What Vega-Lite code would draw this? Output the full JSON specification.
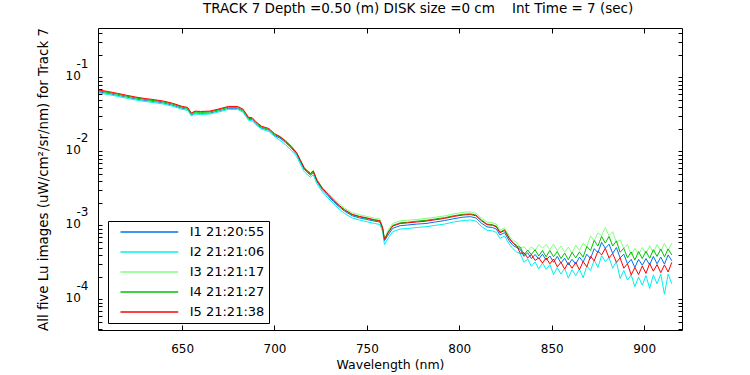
{
"$schema":"https://vega.github.io/schema/vega-lite/v6.json",
"width":584,"height":302,
"autosize":{"type":"none"},
"padding":{"left":98,"top":28,"right":68,"bottom":45},
"background":"white",
"config":{"font":"DejaVu Sans","view":{"stroke":"black","strokeWidth":1},
"axis":{"labelFont":"DejaVu Sans","titleFont":"DejaVu Sans","labelColor":"black","titleColor":"black","tickColor":"black","domain":false,"grid":false,"titleFontWeight":"normal","labelOverlap":false,"labelBound":false,"labelFlush":false}},
"title":{"text":"TRACK 7 Depth =0.50 (m) DISK size =0 cm\u00a0\u00a0\u00a0 Int Time = 7 (sec)","anchor":"start","frame":"group","dx":105,"offset":-3,"fontSize":13.5,"fontWeight":"normal","font":"DejaVu Sans","color":"black"},
"data":{"values":[
{"s":"I1 21:20:55","w":605,"v":6.38e-2},{"s":"I1 21:20:55","w":610,"v":6.10e-2},{"s":"I1 21:20:55","w":615,"v":5.76e-2},{"s":"I1 21:20:55","w":620,"v":5.43e-2},{"s":"I1 21:20:55","w":625,"v":5.13e-2},{"s":"I1 21:20:55","w":630,"v":4.90e-2},{"s":"I1 21:20:55","w":635,"v":4.73e-2},{"s":"I1 21:20:55","w":640,"v":4.52e-2},{"s":"I1 21:20:55","w":645,"v":4.22e-2},{"s":"I1 21:20:55","w":650,"v":3.84e-2},{"s":"I1 21:20:55","w":653,"v":3.72e-2},{"s":"I1 21:20:55","w":655,"v":3.12e-2},{"s":"I1 21:20:55","w":657,"v":3.31e-2},{"s":"I1 21:20:55","w":660,"v":3.28e-2},{"s":"I1 21:20:55","w":665,"v":3.31e-2},{"s":"I1 21:20:55","w":670,"v":3.55e-2},{"s":"I1 21:20:55","w":675,"v":3.83e-2},{"s":"I1 21:20:55","w":680,"v":3.83e-2},{"s":"I1 21:20:55","w":683,"v":3.51e-2},{"s":"I1 21:20:55","w":686,"v":2.72e-2},{"s":"I1 21:20:55","w":688,"v":2.69e-2},{"s":"I1 21:20:55","w":690,"v":2.37e-2},{"s":"I1 21:20:55","w":693,"v":2.07e-2},{"s":"I1 21:20:55","w":697,"v":1.93e-2},{"s":"I1 21:20:55","w":700,"v":1.64e-2},
{"s":"I1 21:20:55","w":703,"v":1.51e-2},{"s":"I1 21:20:55","w":706,"v":1.32e-2},{"s":"I1 21:20:55","w":709,"v":1.12e-2},{"s":"I1 21:20:55","w":712,"v":9.12e-3},{"s":"I1 21:20:55","w":714,"v":7.25e-3},{"s":"I1 21:20:55","w":716,"v":5.76e-3},{"s":"I1 21:20:55","w":718,"v":5.13e-3},{"s":"I1 21:20:55","w":719.5,"v":4.78e-3},{"s":"I1 21:20:55","w":721,"v":5.19e-3},{"s":"I1 21:20:55","w":723,"v":3.89e-3},{"s":"I1 21:20:55","w":726,"v":3.02e-3},{"s":"I1 21:20:55","w":729,"v":2.51e-3},{"s":"I1 21:20:55","w":732,"v":2.09e-3},{"s":"I1 21:20:55","w":735,"v":1.78e-3},{"s":"I1 21:20:55","w":738,"v":1.55e-3},{"s":"I1 21:20:55","w":742,"v":1.35e-3},{"s":"I1 21:20:55","w":746,"v":1.26e-3},{"s":"I1 21:20:55","w":750,"v":1.20e-3},{"s":"I1 21:20:55","w":754,"v":1.14e-3},{"s":"I1 21:20:55","w":757,"v":1.11e-3},{"s":"I1 21:20:55","w":758.5,"v":8.91e-4},{"s":"I1 21:20:55","w":759.5,"v":6.17e-4},
{"s":"I1 21:20:55","w":761.5,"v":7.41e-4},{"s":"I1 21:20:55","w":764,"v":9.12e-4},{"s":"I1 21:20:55","w":768,"v":9.89e-4},{"s":"I1 21:20:55","w":772,"v":1.01e-3},{"s":"I1 21:20:55","w":777,"v":1.04e-3},{"s":"I1 21:20:55","w":782,"v":1.06e-3},{"s":"I1 21:20:55","w":787,"v":1.11e-3},{"s":"I1 21:20:55","w":792,"v":1.16e-3},{"s":"I1 21:20:55","w":797,"v":1.23e-3},{"s":"I1 21:20:55","w":802,"v":1.29e-3},{"s":"I1 21:20:55","w":806,"v":1.31e-3},{"s":"I1 21:20:55","w":809,"v":1.26e-3},{"s":"I1 21:20:55","w":812,"v":1.07e-3},{"s":"I1 21:20:55","w":815,"v":9.52e-4},{"s":"I1 21:20:55","w":818,"v":9.33e-4},{"s":"I1 21:20:55","w":820,"v":8.91e-4},{"s":"I1 21:20:55","w":822,"v":7.41e-4},{"s":"I1 21:20:55","w":824.5,"v":7.94e-4},{"s":"I1 21:20:55","w":827,"v":6.17e-4},{"s":"I1 21:20:55","w":829,"v":5.36e-4},
{"s":"I1 21:20:55","w":831,"v":5.01e-4},{"s":"I1 21:20:55","w":833,"v":4.73e-4},{"s":"I1 21:20:55","w":835,"v":3.80e-4},{"s":"I1 21:20:55","w":837,"v":4.27e-4},{"s":"I1 21:20:55","w":839,"v":3.55e-4},{"s":"I1 21:20:55","w":841,"v":4.03e-4},{"s":"I1 21:20:55","w":843,"v":3.51e-4},{"s":"I1 21:20:55","w":845,"v":4.07e-4},{"s":"I1 21:20:55","w":847,"v":3.40e-4},{"s":"I1 21:20:55","w":849,"v":3.85e-4},{"s":"I1 21:20:55","w":851,"v":3.16e-4},{"s":"I1 21:20:55","w":853,"v":3.80e-4},{"s":"I1 21:20:55","w":855,"v":3.09e-4},{"s":"I1 21:20:55","w":857,"v":3.59e-4},{"s":"I1 21:20:55","w":859,"v":2.92e-4},{"s":"I1 21:20:55","w":861,"v":3.47e-4},{"s":"I1 21:20:55","w":863,"v":2.99e-4},{"s":"I1 21:20:55","w":865,"v":3.72e-4},{"s":"I1 21:20:55","w":867,"v":3.20e-4},{"s":"I1 21:20:55","w":869,"v":4.07e-4},{"s":"I1 21:20:55","w":871,"v":3.55e-4},{"s":"I1 21:20:55","w":873,"v":4.84e-4},{"s":"I1 21:20:55","w":875,"v":4.27e-4},{"s":"I1 21:20:55","w":877,"v":5.89e-4},{"s":"I1 21:20:55","w":879,"v":4.90e-4},{"s":"I1 21:20:55","w":881,"v":5.56e-4},{"s":"I1 21:20:55","w":883,"v":4.17e-4},{"s":"I1 21:20:55","w":885,"v":5.01e-4},{"s":"I1 21:20:55","w":887,"v":3.63e-4},{"s":"I1 21:20:55","w":889,"v":4.07e-4},{"s":"I1 21:20:55","w":891,"v":3.02e-4},{"s":"I1 21:20:55","w":893,"v":3.47e-4},{"s":"I1 21:20:55","w":895,"v":2.69e-4},{"s":"I1 21:20:55","w":897,"v":3.47e-4},{"s":"I1 21:20:55","w":899,"v":2.88e-4},{"s":"I1 21:20:55","w":901,"v":3.55e-4},{"s":"I1 21:20:55","w":903,"v":2.92e-4},{"s":"I1 21:20:55","w":905,"v":3.80e-4},{"s":"I1 21:20:55","w":907,"v":3.02e-4},{"s":"I1 21:20:55","w":909,"v":3.72e-4},{"s":"I1 21:20:55","w":911,"v":2.99e-4},{"s":"I1 21:20:55","w":913,"v":3.98e-4},{"s":"I1 21:20:55","w":915,"v":3.31e-4},

{"s":"I2 21:21:06","w":605,"v":6.17e-2},{"s":"I2 21:21:06","w":610,"v":5.89e-2},{"s":"I2 21:21:06","w":615,"v":5.56e-2},{"s":"I2 21:21:06","w":620,"v":5.24e-2},{"s":"I2 21:21:06","w":625,"v":4.95e-2},{"s":"I2 21:21:06","w":630,"v":4.73e-2},{"s":"I2 21:21:06","w":635,"v":4.57e-2},{"s":"I2 21:21:06","w":640,"v":4.37e-2},{"s":"I2 21:21:06","w":645,"v":4.08e-2},{"s":"I2 21:21:06","w":650,"v":3.71e-2},{"s":"I2 21:21:06","w":653,"v":3.59e-2},{"s":"I2 21:21:06","w":655,"v":3.02e-2},{"s":"I2 21:21:06","w":657,"v":3.20e-2},{"s":"I2 21:21:06","w":660,"v":3.16e-2},{"s":"I2 21:21:06","w":665,"v":3.20e-2},{"s":"I2 21:21:06","w":670,"v":3.43e-2},{"s":"I2 21:21:06","w":675,"v":3.70e-2},{"s":"I2 21:21:06","w":680,"v":3.70e-2},{"s":"I2 21:21:06","w":683,"v":3.39e-2},{"s":"I2 21:21:06","w":686,"v":2.63e-2},{"s":"I2 21:21:06","w":688,"v":2.60e-2},{"s":"I2 21:21:06","w":690,"v":2.29e-2},{"s":"I2 21:21:06","w":693,"v":2.00e-2},{"s":"I2 21:21:06","w":697,"v":1.86e-2},{"s":"I2 21:21:06","w":700,"v":1.59e-2},
{"s":"I2 21:21:06","w":703,"v":1.41e-2},{"s":"I2 21:21:06","w":706,"v":1.23e-2},{"s":"I2 21:21:06","w":709,"v":1.04e-2},{"s":"I2 21:21:06","w":712,"v":8.51e-3},{"s":"I2 21:21:06","w":714,"v":6.76e-3},{"s":"I2 21:21:06","w":716,"v":5.37e-3},{"s":"I2 21:21:06","w":718,"v":4.78e-3},{"s":"I2 21:21:06","w":719.5,"v":4.46e-3},{"s":"I2 21:21:06","w":721,"v":4.84e-3},{"s":"I2 21:21:06","w":723,"v":3.63e-3},{"s":"I2 21:21:06","w":726,"v":2.82e-3},{"s":"I2 21:21:06","w":729,"v":2.34e-3},{"s":"I2 21:21:06","w":732,"v":1.95e-3},{"s":"I2 21:21:06","w":735,"v":1.66e-3},{"s":"I2 21:21:06","w":738,"v":1.44e-3},{"s":"I2 21:21:06","w":742,"v":1.26e-3},{"s":"I2 21:21:06","w":746,"v":1.18e-3},{"s":"I2 21:21:06","w":750,"v":1.12e-3},{"s":"I2 21:21:06","w":754,"v":1.06e-3},{"s":"I2 21:21:06","w":757,"v":1.03e-3},{"s":"I2 21:21:06","w":758.5,"v":8.31e-4},{"s":"I2 21:21:06","w":759.5,"v":5.49e-4},
{"s":"I2 21:21:06","w":761.5,"v":6.68e-4},{"s":"I2 21:21:06","w":764,"v":8.22e-4},{"s":"I2 21:21:06","w":768,"v":8.91e-4},{"s":"I2 21:21:06","w":772,"v":9.08e-4},{"s":"I2 21:21:06","w":777,"v":9.34e-4},{"s":"I2 21:21:06","w":782,"v":9.59e-4},{"s":"I2 21:21:06","w":787,"v":1.00e-3},{"s":"I2 21:21:06","w":792,"v":1.04e-3},{"s":"I2 21:21:06","w":797,"v":1.11e-3},{"s":"I2 21:21:06","w":802,"v":1.16e-3},{"s":"I2 21:21:06","w":806,"v":1.18e-3},{"s":"I2 21:21:06","w":809,"v":1.14e-3},{"s":"I2 21:21:06","w":812,"v":9.67e-4},{"s":"I2 21:21:06","w":815,"v":8.58e-4},{"s":"I2 21:21:06","w":818,"v":8.41e-4},{"s":"I2 21:21:06","w":820,"v":8.03e-4},{"s":"I2 21:21:06","w":822,"v":6.68e-4},{"s":"I2 21:21:06","w":824.5,"v":7.16e-4},{"s":"I2 21:21:06","w":827,"v":5.56e-4},{"s":"I2 21:21:06","w":829,"v":4.84e-4},
{"s":"I2 21:21:06","w":831,"v":4.37e-4},{"s":"I2 21:21:06","w":833,"v":4.12e-4},{"s":"I2 21:21:06","w":835,"v":3.16e-4},{"s":"I2 21:21:06","w":837,"v":3.51e-4},{"s":"I2 21:21:06","w":839,"v":2.79e-4},{"s":"I2 21:21:06","w":841,"v":3.20e-4},{"s":"I2 21:21:06","w":843,"v":2.57e-4},{"s":"I2 21:21:06","w":845,"v":3.09e-4},{"s":"I2 21:21:06","w":847,"v":2.54e-4},{"s":"I2 21:21:06","w":849,"v":2.95e-4},{"s":"I2 21:21:06","w":851,"v":2.16e-4},{"s":"I2 21:21:06","w":853,"v":2.69e-4},{"s":"I2 21:21:06","w":855,"v":2.19e-4},{"s":"I2 21:21:06","w":857,"v":2.63e-4},{"s":"I2 21:21:06","w":859,"v":1.93e-4},{"s":"I2 21:21:06","w":861,"v":2.51e-4},{"s":"I2 21:21:06","w":863,"v":2.09e-4},{"s":"I2 21:21:06","w":865,"v":2.57e-4},{"s":"I2 21:21:06","w":867,"v":1.95e-4},{"s":"I2 21:21:06","w":869,"v":2.82e-4},{"s":"I2 21:21:06","w":871,"v":2.45e-4},{"s":"I2 21:21:06","w":873,"v":3.39e-4},{"s":"I2 21:21:06","w":875,"v":2.69e-4},{"s":"I2 21:21:06","w":877,"v":3.89e-4},{"s":"I2 21:21:06","w":879,"v":3.24e-4},{"s":"I2 21:21:06","w":881,"v":3.67e-4},{"s":"I2 21:21:06","w":883,"v":2.63e-4},{"s":"I2 21:21:06","w":885,"v":3.24e-4},{"s":"I2 21:21:06","w":887,"v":1.91e-4},{"s":"I2 21:21:06","w":889,"v":2.45e-4},{"s":"I2 21:21:06","w":891,"v":1.82e-4},{"s":"I2 21:21:06","w":893,"v":2.14e-4},{"s":"I2 21:21:06","w":895,"v":1.48e-4},{"s":"I2 21:21:06","w":897,"v":2.00e-4},{"s":"I2 21:21:06","w":899,"v":1.55e-4},{"s":"I2 21:21:06","w":901,"v":2.09e-4},{"s":"I2 21:21:06","w":903,"v":1.40e-4},{"s":"I2 21:21:06","w":905,"v":2.14e-4},{"s":"I2 21:21:06","w":907,"v":1.62e-4},{"s":"I2 21:21:06","w":909,"v":2.19e-4},{"s":"I2 21:21:06","w":911,"v":1.17e-4},{"s":"I2 21:21:06","w":913,"v":2.19e-4},{"s":"I2 21:21:06","w":915,"v":1.62e-4},

{"s":"I3 21:21:17","w":605,"v":6.53e-2},{"s":"I3 21:21:17","w":610,"v":6.24e-2},{"s":"I3 21:21:17","w":615,"v":5.89e-2},{"s":"I3 21:21:17","w":620,"v":5.55e-2},{"s":"I3 21:21:17","w":625,"v":5.25e-2},{"s":"I3 21:21:17","w":630,"v":5.01e-2},{"s":"I3 21:21:17","w":635,"v":4.84e-2},{"s":"I3 21:21:17","w":640,"v":4.63e-2},{"s":"I3 21:21:17","w":645,"v":4.32e-2},{"s":"I3 21:21:17","w":650,"v":3.93e-2},{"s":"I3 21:21:17","w":653,"v":3.81e-2},{"s":"I3 21:21:17","w":655,"v":3.20e-2},{"s":"I3 21:21:17","w":657,"v":3.39e-2},{"s":"I3 21:21:17","w":660,"v":3.35e-2},{"s":"I3 21:21:17","w":665,"v":3.39e-2},{"s":"I3 21:21:17","w":670,"v":3.63e-2},{"s":"I3 21:21:17","w":675,"v":3.92e-2},{"s":"I3 21:21:17","w":680,"v":3.92e-2},{"s":"I3 21:21:17","w":683,"v":3.59e-2},{"s":"I3 21:21:17","w":686,"v":2.78e-2},{"s":"I3 21:21:17","w":688,"v":2.75e-2},{"s":"I3 21:21:17","w":690,"v":2.42e-2},{"s":"I3 21:21:17","w":693,"v":2.12e-2},{"s":"I3 21:21:17","w":697,"v":1.97e-2},{"s":"I3 21:21:17","w":700,"v":1.68e-2},
{"s":"I3 21:21:17","w":703,"v":1.62e-2},{"s":"I3 21:21:17","w":706,"v":1.41e-2},{"s":"I3 21:21:17","w":709,"v":1.20e-2},{"s":"I3 21:21:17","w":712,"v":9.77e-3},{"s":"I3 21:21:17","w":714,"v":7.76e-3},{"s":"I3 21:21:17","w":716,"v":6.17e-3},{"s":"I3 21:21:17","w":718,"v":5.49e-3},{"s":"I3 21:21:17","w":719.5,"v":5.13e-3},{"s":"I3 21:21:17","w":721,"v":5.55e-3},{"s":"I3 21:21:17","w":723,"v":4.16e-3},{"s":"I3 21:21:17","w":726,"v":3.23e-3},{"s":"I3 21:21:17","w":729,"v":2.76e-3},{"s":"I3 21:21:17","w":732,"v":2.30e-3},{"s":"I3 21:21:17","w":735,"v":1.95e-3},{"s":"I3 21:21:17","w":738,"v":1.70e-3},{"s":"I3 21:21:17","w":742,"v":1.48e-3},{"s":"I3 21:21:17","w":746,"v":1.39e-3},{"s":"I3 21:21:17","w":750,"v":1.32e-3},{"s":"I3 21:21:17","w":754,"v":1.25e-3},{"s":"I3 21:21:17","w":757,"v":1.22e-3},{"s":"I3 21:21:17","w":758.5,"v":9.54e-4},{"s":"I3 21:21:17","w":759.5,"v":6.61e-4},
{"s":"I3 21:21:17","w":761.5,"v":8.61e-4},{"s":"I3 21:21:17","w":764,"v":1.06e-3},{"s":"I3 21:21:17","w":768,"v":1.15e-3},{"s":"I3 21:21:17","w":772,"v":1.17e-3},{"s":"I3 21:21:17","w":777,"v":1.20e-3},{"s":"I3 21:21:17","w":782,"v":1.24e-3},{"s":"I3 21:21:17","w":787,"v":1.29e-3},{"s":"I3 21:21:17","w":792,"v":1.34e-3},{"s":"I3 21:21:17","w":797,"v":1.43e-3},{"s":"I3 21:21:17","w":802,"v":1.50e-3},{"s":"I3 21:21:17","w":806,"v":1.52e-3},{"s":"I3 21:21:17","w":809,"v":1.46e-3},{"s":"I3 21:21:17","w":812,"v":1.25e-3},{"s":"I3 21:21:17","w":815,"v":1.11e-3},{"s":"I3 21:21:17","w":818,"v":1.08e-3},{"s":"I3 21:21:17","w":820,"v":1.04e-3},{"s":"I3 21:21:17","w":822,"v":8.61e-4},{"s":"I3 21:21:17","w":824.5,"v":9.22e-4},{"s":"I3 21:21:17","w":827,"v":7.17e-4},{"s":"I3 21:21:17","w":829,"v":6.23e-4},
{"s":"I3 21:21:17","w":831,"v":5.89e-4},{"s":"I3 21:21:17","w":833,"v":4.95e-4},{"s":"I3 21:21:17","w":835,"v":5.13e-4},{"s":"I3 21:21:17","w":837,"v":4.47e-4},{"s":"I3 21:21:17","w":839,"v":5.13e-4},{"s":"I3 21:21:17","w":841,"v":4.57e-4},{"s":"I3 21:21:17","w":843,"v":5.50e-4},{"s":"I3 21:21:17","w":845,"v":4.90e-4},{"s":"I3 21:21:17","w":847,"v":5.50e-4},{"s":"I3 21:21:17","w":849,"v":4.68e-4},{"s":"I3 21:21:17","w":851,"v":5.56e-4},{"s":"I3 21:21:17","w":853,"v":4.52e-4},{"s":"I3 21:21:17","w":855,"v":5.25e-4},{"s":"I3 21:21:17","w":857,"v":4.32e-4},{"s":"I3 21:21:17","w":859,"v":5.07e-4},{"s":"I3 21:21:17","w":861,"v":4.22e-4},{"s":"I3 21:21:17","w":863,"v":5.37e-4},{"s":"I3 21:21:17","w":865,"v":4.57e-4},{"s":"I3 21:21:17","w":867,"v":5.75e-4},{"s":"I3 21:21:17","w":869,"v":5.13e-4},{"s":"I3 21:21:17","w":871,"v":7.16e-4},{"s":"I3 21:21:17","w":873,"v":6.17e-4},{"s":"I3 21:21:17","w":875,"v":7.94e-4},{"s":"I3 21:21:17","w":877,"v":7.24e-4},{"s":"I3 21:21:17","w":879,"v":9.33e-4},{"s":"I3 21:21:17","w":881,"v":7.24e-4},{"s":"I3 21:21:17","w":883,"v":8.22e-4},{"s":"I3 21:21:17","w":885,"v":5.89e-4},{"s":"I3 21:21:17","w":887,"v":6.38e-4},{"s":"I3 21:21:17","w":889,"v":4.90e-4},{"s":"I3 21:21:17","w":891,"v":5.50e-4},{"s":"I3 21:21:17","w":893,"v":3.98e-4},{"s":"I3 21:21:17","w":895,"v":4.90e-4},{"s":"I3 21:21:17","w":897,"v":4.03e-4},{"s":"I3 21:21:17","w":899,"v":5.01e-4},{"s":"I3 21:21:17","w":901,"v":4.12e-4},{"s":"I3 21:21:17","w":903,"v":5.31e-4},{"s":"I3 21:21:17","w":905,"v":4.27e-4},{"s":"I3 21:21:17","w":907,"v":5.50e-4},{"s":"I3 21:21:17","w":909,"v":4.47e-4},{"s":"I3 21:21:17","w":911,"v":5.69e-4},{"s":"I3 21:21:17","w":913,"v":4.57e-4},{"s":"I3 21:21:17","w":915,"v":5.75e-4},

{"s":"I4 21:21:27","w":605,"v":6.58e-2},{"s":"I4 21:21:27","w":610,"v":6.29e-2},{"s":"I4 21:21:27","w":615,"v":5.94e-2},{"s":"I4 21:21:27","w":620,"v":5.59e-2},{"s":"I4 21:21:27","w":625,"v":5.28e-2},{"s":"I4 21:21:27","w":630,"v":5.05e-2},{"s":"I4 21:21:27","w":635,"v":4.87e-2},{"s":"I4 21:21:27","w":640,"v":4.66e-2},{"s":"I4 21:21:27","w":645,"v":4.35e-2},{"s":"I4 21:21:27","w":650,"v":3.96e-2},{"s":"I4 21:21:27","w":653,"v":3.83e-2},{"s":"I4 21:21:27","w":655,"v":3.22e-2},{"s":"I4 21:21:27","w":657,"v":3.42e-2},{"s":"I4 21:21:27","w":660,"v":3.38e-2},{"s":"I4 21:21:27","w":665,"v":3.42e-2},{"s":"I4 21:21:27","w":670,"v":3.66e-2},{"s":"I4 21:21:27","w":675,"v":3.95e-2},{"s":"I4 21:21:27","w":680,"v":3.95e-2},{"s":"I4 21:21:27","w":683,"v":3.62e-2},{"s":"I4 21:21:27","w":686,"v":2.80e-2},{"s":"I4 21:21:27","w":688,"v":2.77e-2},{"s":"I4 21:21:27","w":690,"v":2.44e-2},{"s":"I4 21:21:27","w":693,"v":2.13e-2},{"s":"I4 21:21:27","w":697,"v":1.98e-2},{"s":"I4 21:21:27","w":700,"v":1.69e-2},
{"s":"I4 21:21:27","w":703,"v":1.56e-2},{"s":"I4 21:21:27","w":706,"v":1.36e-2},{"s":"I4 21:21:27","w":709,"v":1.15e-2},{"s":"I4 21:21:27","w":712,"v":9.41e-3},{"s":"I4 21:21:27","w":714,"v":7.48e-3},{"s":"I4 21:21:27","w":716,"v":5.94e-3},{"s":"I4 21:21:27","w":718,"v":5.29e-3},{"s":"I4 21:21:27","w":719.5,"v":4.93e-3},{"s":"I4 21:21:27","w":721,"v":5.35e-3},{"s":"I4 21:21:27","w":723,"v":4.01e-3},{"s":"I4 21:21:27","w":726,"v":3.11e-3},{"s":"I4 21:21:27","w":729,"v":2.59e-3},{"s":"I4 21:21:27","w":732,"v":2.16e-3},{"s":"I4 21:21:27","w":735,"v":1.83e-3},{"s":"I4 21:21:27","w":738,"v":1.60e-3},{"s":"I4 21:21:27","w":742,"v":1.39e-3},{"s":"I4 21:21:27","w":746,"v":1.30e-3},{"s":"I4 21:21:27","w":750,"v":1.24e-3},{"s":"I4 21:21:27","w":754,"v":1.17e-3},{"s":"I4 21:21:27","w":757,"v":1.14e-3},{"s":"I4 21:21:27","w":758.5,"v":9.19e-4},{"s":"I4 21:21:27","w":759.5,"v":6.36e-4},
{"s":"I4 21:21:27","w":761.5,"v":8.12e-4},{"s":"I4 21:21:27","w":764,"v":1.00e-3},{"s":"I4 21:21:27","w":768,"v":1.08e-3},{"s":"I4 21:21:27","w":772,"v":1.10e-3},{"s":"I4 21:21:27","w":777,"v":1.14e-3},{"s":"I4 21:21:27","w":782,"v":1.17e-3},{"s":"I4 21:21:27","w":787,"v":1.22e-3},{"s":"I4 21:21:27","w":792,"v":1.27e-3},{"s":"I4 21:21:27","w":797,"v":1.35e-3},{"s":"I4 21:21:27","w":802,"v":1.41e-3},{"s":"I4 21:21:27","w":806,"v":1.43e-3},{"s":"I4 21:21:27","w":809,"v":1.38e-3},{"s":"I4 21:21:27","w":812,"v":1.18e-3},{"s":"I4 21:21:27","w":815,"v":1.04e-3},{"s":"I4 21:21:27","w":818,"v":1.02e-3},{"s":"I4 21:21:27","w":820,"v":9.77e-4},{"s":"I4 21:21:27","w":822,"v":8.12e-4},{"s":"I4 21:21:27","w":824.5,"v":8.71e-4},{"s":"I4 21:21:27","w":827,"v":6.76e-4},{"s":"I4 21:21:27","w":829,"v":5.88e-4},
{"s":"I4 21:21:27","w":831,"v":5.13e-4},{"s":"I4 21:21:27","w":833,"v":5.07e-4},{"s":"I4 21:21:27","w":835,"v":3.98e-4},{"s":"I4 21:21:27","w":837,"v":4.62e-4},{"s":"I4 21:21:27","w":839,"v":4.03e-4},{"s":"I4 21:21:27","w":841,"v":4.68e-4},{"s":"I4 21:21:27","w":843,"v":3.85e-4},{"s":"I4 21:21:27","w":845,"v":4.57e-4},{"s":"I4 21:21:27","w":847,"v":3.76e-4},{"s":"I4 21:21:27","w":849,"v":4.57e-4},{"s":"I4 21:21:27","w":851,"v":3.76e-4},{"s":"I4 21:21:27","w":853,"v":4.42e-4},{"s":"I4 21:21:27","w":855,"v":3.55e-4},{"s":"I4 21:21:27","w":857,"v":4.22e-4},{"s":"I4 21:21:27","w":859,"v":3.43e-4},{"s":"I4 21:21:27","w":861,"v":4.32e-4},{"s":"I4 21:21:27","w":863,"v":3.63e-4},{"s":"I4 21:21:27","w":865,"v":4.37e-4},{"s":"I4 21:21:27","w":867,"v":3.72e-4},{"s":"I4 21:21:27","w":869,"v":5.19e-4},{"s":"I4 21:21:27","w":871,"v":4.57e-4},{"s":"I4 21:21:27","w":873,"v":6.24e-4},{"s":"I4 21:21:27","w":875,"v":5.25e-4},{"s":"I4 21:21:27","w":877,"v":7.08e-4},{"s":"I4 21:21:27","w":879,"v":5.75e-4},{"s":"I4 21:21:27","w":881,"v":7.08e-4},{"s":"I4 21:21:27","w":883,"v":5.25e-4},{"s":"I4 21:21:27","w":885,"v":6.17e-4},{"s":"I4 21:21:27","w":887,"v":4.32e-4},{"s":"I4 21:21:27","w":889,"v":4.90e-4},{"s":"I4 21:21:27","w":891,"v":3.63e-4},{"s":"I4 21:21:27","w":893,"v":4.37e-4},{"s":"I4 21:21:27","w":895,"v":3.39e-4},{"s":"I4 21:21:27","w":897,"v":4.42e-4},{"s":"I4 21:21:27","w":899,"v":3.55e-4},{"s":"I4 21:21:27","w":901,"v":4.47e-4},{"s":"I4 21:21:27","w":903,"v":3.59e-4},{"s":"I4 21:21:27","w":905,"v":4.68e-4},{"s":"I4 21:21:27","w":907,"v":3.80e-4},{"s":"I4 21:21:27","w":909,"v":4.79e-4},{"s":"I4 21:21:27","w":911,"v":3.76e-4},{"s":"I4 21:21:27","w":913,"v":4.79e-4},{"s":"I4 21:21:27","w":915,"v":3.98e-4},

{"s":"I5 21:21:38","w":605,"v":6.76e-2},{"s":"I5 21:21:38","w":610,"v":6.46e-2},{"s":"I5 21:21:38","w":615,"v":6.10e-2},{"s":"I5 21:21:38","w":620,"v":5.75e-2},{"s":"I5 21:21:38","w":625,"v":5.43e-2},{"s":"I5 21:21:38","w":630,"v":5.19e-2},{"s":"I5 21:21:38","w":635,"v":5.01e-2},{"s":"I5 21:21:38","w":640,"v":4.79e-2},{"s":"I5 21:21:38","w":645,"v":4.47e-2},{"s":"I5 21:21:38","w":650,"v":4.07e-2},{"s":"I5 21:21:38","w":653,"v":3.94e-2},{"s":"I5 21:21:38","w":655,"v":3.31e-2},{"s":"I5 21:21:38","w":657,"v":3.51e-2},{"s":"I5 21:21:38","w":660,"v":3.47e-2},{"s":"I5 21:21:38","w":665,"v":3.51e-2},{"s":"I5 21:21:38","w":670,"v":3.76e-2},{"s":"I5 21:21:38","w":675,"v":4.06e-2},{"s":"I5 21:21:38","w":680,"v":4.06e-2},{"s":"I5 21:21:38","w":683,"v":3.72e-2},{"s":"I5 21:21:38","w":686,"v":2.88e-2},{"s":"I5 21:21:38","w":688,"v":2.85e-2},{"s":"I5 21:21:38","w":690,"v":2.51e-2},{"s":"I5 21:21:38","w":693,"v":2.19e-2},{"s":"I5 21:21:38","w":697,"v":2.04e-2},{"s":"I5 21:21:38","w":700,"v":1.74e-2},
{"s":"I5 21:21:38","w":703,"v":1.58e-2},{"s":"I5 21:21:38","w":706,"v":1.38e-2},{"s":"I5 21:21:38","w":709,"v":1.17e-2},{"s":"I5 21:21:38","w":712,"v":9.55e-3},{"s":"I5 21:21:38","w":714,"v":7.59e-3},{"s":"I5 21:21:38","w":716,"v":6.03e-3},{"s":"I5 21:21:38","w":718,"v":5.37e-3},{"s":"I5 21:21:38","w":719.5,"v":5.01e-3},{"s":"I5 21:21:38","w":721,"v":5.43e-3},{"s":"I5 21:21:38","w":723,"v":4.07e-3},{"s":"I5 21:21:38","w":726,"v":3.16e-3},{"s":"I5 21:21:38","w":729,"v":2.63e-3},{"s":"I5 21:21:38","w":732,"v":2.19e-3},{"s":"I5 21:21:38","w":735,"v":1.86e-3},{"s":"I5 21:21:38","w":738,"v":1.62e-3},{"s":"I5 21:21:38","w":742,"v":1.41e-3},{"s":"I5 21:21:38","w":746,"v":1.32e-3},{"s":"I5 21:21:38","w":750,"v":1.26e-3},{"s":"I5 21:21:38","w":754,"v":1.19e-3},{"s":"I5 21:21:38","w":757,"v":1.16e-3},{"s":"I5 21:21:38","w":758.5,"v":9.33e-4},{"s":"I5 21:21:38","w":759.5,"v":6.46e-4},
{"s":"I5 21:21:38","w":761.5,"v":7.94e-4},{"s":"I5 21:21:38","w":764,"v":9.77e-4},{"s":"I5 21:21:38","w":768,"v":1.06e-3},{"s":"I5 21:21:38","w":772,"v":1.08e-3},{"s":"I5 21:21:38","w":777,"v":1.11e-3},{"s":"I5 21:21:38","w":782,"v":1.14e-3},{"s":"I5 21:21:38","w":787,"v":1.19e-3},{"s":"I5 21:21:38","w":792,"v":1.24e-3},{"s":"I5 21:21:38","w":797,"v":1.32e-3},{"s":"I5 21:21:38","w":802,"v":1.38e-3},{"s":"I5 21:21:38","w":806,"v":1.40e-3},{"s":"I5 21:21:38","w":809,"v":1.35e-3},{"s":"I5 21:21:38","w":812,"v":1.15e-3},{"s":"I5 21:21:38","w":815,"v":1.02e-3},{"s":"I5 21:21:38","w":818,"v":1.00e-3},{"s":"I5 21:21:38","w":820,"v":9.55e-4},{"s":"I5 21:21:38","w":822,"v":7.94e-4},{"s":"I5 21:21:38","w":824.5,"v":8.51e-4},{"s":"I5 21:21:38","w":827,"v":6.61e-4},{"s":"I5 21:21:38","w":829,"v":5.75e-4},
{"s":"I5 21:21:38","w":831,"v":5.37e-4},{"s":"I5 21:21:38","w":833,"v":4.17e-4},{"s":"I5 21:21:38","w":835,"v":4.27e-4},{"s":"I5 21:21:38","w":837,"v":3.63e-4},{"s":"I5 21:21:38","w":839,"v":4.03e-4},{"s":"I5 21:21:38","w":841,"v":3.35e-4},{"s":"I5 21:21:38","w":843,"v":3.63e-4},{"s":"I5 21:21:38","w":845,"v":3.09e-4},{"s":"I5 21:21:38","w":847,"v":3.63e-4},{"s":"I5 21:21:38","w":849,"v":3.02e-4},{"s":"I5 21:21:38","w":851,"v":3.51e-4},{"s":"I5 21:21:38","w":853,"v":2.75e-4},{"s":"I5 21:21:38","w":855,"v":3.16e-4},{"s":"I5 21:21:38","w":857,"v":2.57e-4},{"s":"I5 21:21:38","w":859,"v":3.13e-4},{"s":"I5 21:21:38","w":861,"v":2.63e-4},{"s":"I5 21:21:38","w":863,"v":3.16e-4},{"s":"I5 21:21:38","w":865,"v":2.51e-4},{"s":"I5 21:21:38","w":867,"v":3.24e-4},{"s":"I5 21:21:38","w":869,"v":2.75e-4},{"s":"I5 21:21:38","w":871,"v":3.80e-4},{"s":"I5 21:21:38","w":873,"v":3.31e-4},{"s":"I5 21:21:38","w":875,"v":4.47e-4},{"s":"I5 21:21:38","w":877,"v":3.98e-4},{"s":"I5 21:21:38","w":879,"v":4.90e-4},{"s":"I5 21:21:38","w":881,"v":3.63e-4},{"s":"I5 21:21:38","w":883,"v":4.17e-4},{"s":"I5 21:21:38","w":885,"v":3.16e-4},{"s":"I5 21:21:38","w":887,"v":3.63e-4},{"s":"I5 21:21:38","w":889,"v":2.63e-4},{"s":"I5 21:21:38","w":891,"v":3.02e-4},{"s":"I5 21:21:38","w":893,"v":2.14e-4},{"s":"I5 21:21:38","w":895,"v":2.69e-4},{"s":"I5 21:21:38","w":897,"v":2.16e-4},{"s":"I5 21:21:38","w":899,"v":2.82e-4},{"s":"I5 21:21:38","w":901,"v":2.24e-4},{"s":"I5 21:21:38","w":903,"v":3.05e-4},{"s":"I5 21:21:38","w":905,"v":2.40e-4},{"s":"I5 21:21:38","w":907,"v":2.95e-4},{"s":"I5 21:21:38","w":909,"v":2.29e-4},{"s":"I5 21:21:38","w":911,"v":2.92e-4},{"s":"I5 21:21:38","w":913,"v":2.34e-4},{"s":"I5 21:21:38","w":915,"v":3.16e-4}
]},
"layer":[
{"mark":{"type":"line","strokeWidth":1,"clip":true},
 "encoding":{
  "x":{"field":"w","type":"quantitative","scale":{"domain":[604.5,920.5],"nice":false,"zero":false},
       "axis":{"orient":"bottom","values":[650,700,750,800,850,900],"tickSize":-5,"labelPadding":18,"labelFontSize":12,"title":"Wavelength (nm)","titleFontSize":12.5,"titlePadding":4}},
  "y":{"field":"v","type":"quantitative","scale":{"type":"log","domain":[3.84e-5,0.467],"nice":false},
       "axis":{"orient":"left","values":[4e-5,5e-5,6e-5,7e-5,8e-5,9e-5,1e-4,2e-4,3e-4,4e-4,5e-4,6e-4,7e-4,8e-4,9e-4,1e-3,2e-3,3e-3,4e-3,5e-3,6e-3,7e-3,8e-3,9e-3,1e-2,2e-2,3e-2,4e-2,5e-2,6e-2,7e-2,8e-2,9e-2,1e-1,2e-1,3e-1,4e-1],
        "tickSize":-4,"labelPadding":14,"labelOffset":-14,"labelAlign":"right","labelBaseline":"middle","labelLineHeight":12,"labelFontSize":12,
        "labelExpr":"abs(log(datum.value)/LN10 - round(log(datum.value)/LN10)) < 0.001 ? ['-' + abs(round(log(datum.value)/LN10)), '10\u00a0\u00a0\u200b'] : ''",
        "title":"All five Lu images (uW/cm²/sr/nm) for Track 7","titleFontSize":13.4,"titlePadding":15}},
  "color":{"field":"s","type":"nominal",
   "scale":{"domain":["I1 21:20:55","I2 21:21:06","I3 21:21:17","I4 21:21:27","I5 21:21:38"],"range":["#0072F0","#00F0F0","#80FF80","#00C000","#FF0000"]},
   "legend":{"orient":"none","legendX":10,"legendY":193,"title":null,"symbolType":"M-1,0.1H10.54","symbolSize":100,"symbolStrokeWidth":1.5,"symbolOffset":7,"labelFontSize":13,"labelFont":"DejaVu Sans","labelColor":"black","labelOffset":57.7,"rowPadding":6,"padding":4,"strokeColor":"black","fillColor":"white"}}
 }},
{"mark":{"type":"line","opacity":0},
 "encoding":{
  "x":{"field":"w","type":"quantitative","scale":{"domain":[604.5,920.5],"nice":false,"zero":false},
       "axis":{"orient":"top","values":[650,700,750,800,850,900],"tickSize":-5,"labels":false,"title":null}},
  "y":{"field":"v","type":"quantitative","scale":{"type":"log","domain":[3.84e-5,0.467],"nice":false},
       "axis":{"orient":"right","values":[4e-5,5e-5,6e-5,7e-5,8e-5,9e-5,1e-4,2e-4,3e-4,4e-4,5e-4,6e-4,7e-4,8e-4,9e-4,1e-3,2e-3,3e-3,4e-3,5e-3,6e-3,7e-3,8e-3,9e-3,1e-2,2e-2,3e-2,4e-2,5e-2,6e-2,7e-2,8e-2,9e-2,1e-1,2e-1,3e-1,4e-1],"tickSize":-4,"labels":false,"title":null}}
 }}
],
"resolve":{"scale":{"x":"independent","y":"independent"}}
}
